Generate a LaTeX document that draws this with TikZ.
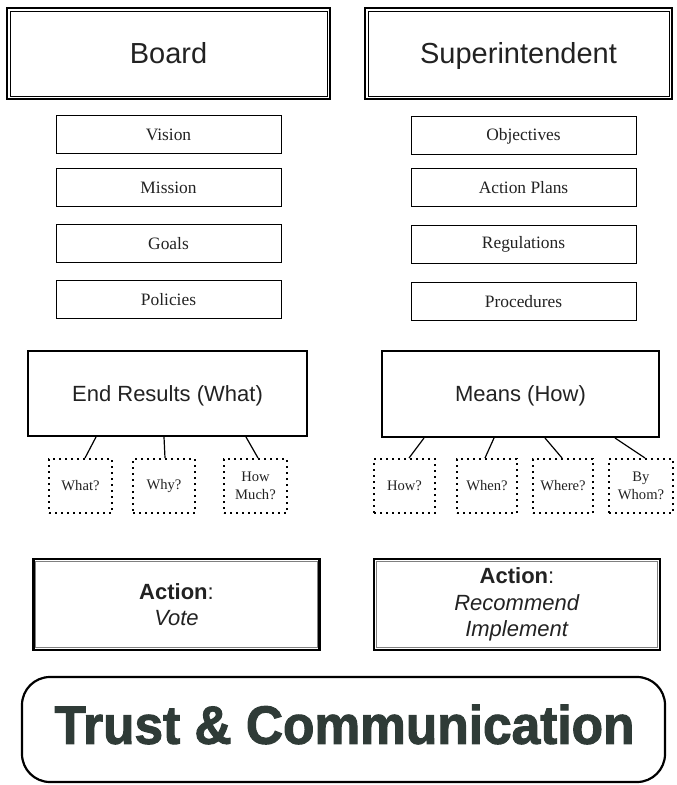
\documentclass[tikz,border=0pt]{standalone}
\usepackage{fontspec}
\setmainfont{Liberation Serif}
\setsansfont{Liberation Sans}
\newfontface\heavyfont[FakeBold=2]{Liberation Sans Bold}
\usepackage{graphicx}
\usetikzlibrary{calc,positioning}

\definecolor{inkgray}{HTML}{222222}
\definecolor{slategreen}{HTML}{2F3B37}

\tikzset{
  headbox/.style={draw,line width=1pt,inner sep=0pt,text=inkgray,
    text height=10.4pt,text depth=0pt,
    font=\sffamily\fontsize{14.5}{17}\selectfont},
  itembox/.style={draw,line width=0.5pt,inner sep=0pt,text=inkgray,
    minimum width=112.5pt,minimum height=19pt,
    font=\rmfamily\fontsize{8.7}{10}\selectfont},
  resultbox/.style={draw,line width=1pt,inner sep=0pt,text=inkgray,
    text height=7.9pt,text depth=0pt,
    font=\sffamily\fontsize{11}{13}\selectfont},
  askbox/.style={draw,dotted,line width=1pt,inner sep=0pt,text=inkgray,
    minimum height=27pt,align=center,
    font=\rmfamily\fontsize{7.3}{9}\selectfont},
  actionbox/.style={draw,line width=1.3pt,inner sep=0pt,text=inkgray,
    minimum width=143pt,minimum height=45.5pt,align=center,
    font=\sffamily\fontsize{11}{13.2}\selectfont},
  innerline/.style={line width=0.4pt},
  link/.style={line width=0.6pt}
}

\begin{document}
\begin{tikzpicture}[x=0.5pt,y=-0.5pt]
\useasboundingbox (0,0) rectangle (676,785);

% heads
\node[headbox,minimum width=161.5pt,minimum height=45.5pt] (board) at (168.5,53.5) {Board};
\node[headbox,minimum width=153.5pt,minimum height=45.5pt] (super) at (518.5,53.5) {Superintendent};
\draw[innerline] ([shift={(2pt,-2pt)}]board.north west) rectangle ([shift={(-2pt,2pt)}]board.south east);
\draw[innerline] ([shift={(2pt,-2pt)}]super.north west) rectangle ([shift={(-2pt,2pt)}]super.south east);

% board items
\node[itembox] (vision)   at (168.5,135) {Vision};
\node[itembox] (mission)  at (168.5,187.5) {Mission};
\node[itembox] (goals)    at (168.5,243.5) {Goals};
\node[itembox] (policies) at (168.5,300) {Policies};

% superintendent items
\node[itembox] (objectives)  at (523.5,136) {Objectives};
\node[itembox] (actionplans) at (523.5,188) {Action Plans};
\node[itembox] (regulations) at (523.5,244.5) {Regulations};
\node[itembox] (procedures)  at (523.5,301.5) {Procedures};

% what and how
\node[resultbox,minimum width=139.5pt,minimum height=42.5pt] (ends)  at (167.5,393.5) {End Results (What)};
\node[resultbox,minimum width=138.5pt,minimum height=43pt]   (means) at (520.5,394) {Means (How)};

\node[askbox,minimum width=31.5pt] (what)    at (80.5,486) {What?};
\node[askbox,minimum width=31pt]   (why)     at (164,486) {Why?};
\node[askbox,minimum width=31.5pt] (howmuch) at (255.5,486) {How\\Much?};

\node[askbox,minimum width=30.5pt] (how)     at (404.5,486) {How?};
\node[askbox,minimum width=30pt]   (when)    at (487,486) {When?};
\node[askbox,minimum width=30pt]   (where)   at (563,486) {Where?};
\node[askbox,minimum width=32pt]   (bywhom)  at (641,486) {By\\Whom?};

\draw[link] ([xshift=-35.75pt]ends.south) -- ([xshift=2.25pt]what.north);
\draw[link] ([xshift=-1.75pt]ends.south) -- ([xshift=0.5pt]why.north);
\draw[link] ([xshift=39.25pt]ends.south) -- ([xshift=1.25pt]howmuch.north);

\draw[link] ([xshift=-48.25pt]means.south) -- ([xshift=2.25pt]how.north);
\draw[link] ([xshift=-13.25pt]means.south) -- ([xshift=-1pt]when.north);
\draw[link] ([xshift=12.25pt]means.south) -- ([xshift=-0.5pt]where.north);
\draw[link] ([xshift=47.25pt]means.south) -- ([xshift=2pt]bywhom.north);

% actions
\node[actionbox] (vote) at (176.5,604.5) {\textbf{Action}:\\\textit{Vote}};
\node[actionbox] (recommend) at (517,604.5) {\textbf{Action}:\\\textit{Recommend}\\\textit{Implement}};
\draw[innerline,gray] ([shift={(1.8pt,-1.8pt)}]vote.north west) rectangle ([shift={(-1.8pt,1.8pt)}]vote.south east);
\draw[innerline,gray] ([shift={(1.8pt,-1.8pt)}]recommend.north west) rectangle ([shift={(-1.8pt,1.8pt)}]recommend.south east);

% trust
\node[draw,line width=1.1pt,rounded corners=14pt,minimum width=321.5pt,minimum height=52.5pt] (trustbox) at (343.5,729.5) {};
\node[inner sep=0pt,text=slategreen] (trust) at (344.5,724.5)
  {\resizebox{290pt}{19.5pt}{\heavyfont Trust \& Communication}};
\end{tikzpicture}
\end{document}
